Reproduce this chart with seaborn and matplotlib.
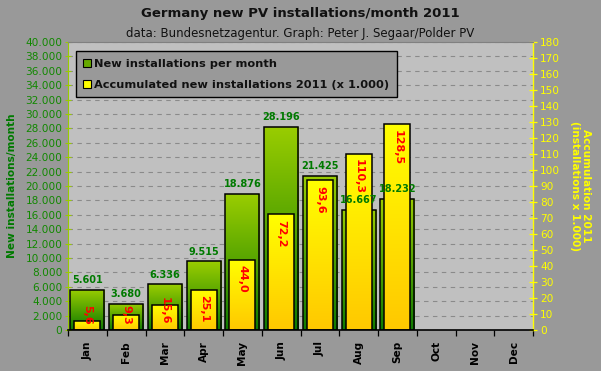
"""Germany new PV installations per month, 2011 (Polder PV style chart)."""

import matplotlib
matplotlib.use("Agg")
import matplotlib.pyplot as plt
import numpy as np
import pandas as pd
import seaborn as sns
from matplotlib.colors import LinearSegmentedColormap
from matplotlib.ticker import FixedLocator, FuncFormatter, MultipleLocator

months = ["Jan", "Feb", "Mar", "Apr", "May", "Jun", "Jul", "Aug", "Sep", "Oct", "Nov", "Dec"]
new_installs = [5601, 3680, 6336, 9515, 18876, 28196, 21425, 16667, 18232, np.nan, np.nan, np.nan]
accumulated = [5.6, 9.3, 15.6, 25.1, 44.0, 72.2, 93.6, 110.3, 128.5, np.nan, np.nan, np.nan]

left_max, right_max = 40000, 180

FIG_BG = "#999999"
PLOT_BG = "#c0c0c0"
TICK_GREEN = "#118800"
LABEL_GREEN = "#007a00"
YELLOW = "#ffff00"

df = pd.DataFrame({"month": months, "new": new_installs, "accum": accumulated})

sns.set_style("white")
plt.rcParams["font.family"] = ["DejaVu Sans"]

fig = plt.figure(figsize=(6.01, 3.71), dpi=100, facecolor=FIG_BG)
ax = fig.add_axes([68 / 601, 41 / 371, 465 / 601, 288 / 371])
ax.set_facecolor(PLOT_BG)
ax2 = ax.twinx()


def gradient_bars(axis, bottom_col, top_col):
    """Replace flat bar fills with a vertical gradient clipped to each bar."""
    cmap = LinearSegmentedColormap.from_list("grad", [bottom_col, top_col])
    grad = np.linspace(0, 1, 256).reshape(-1, 1)
    for p in axis.patches:
        h = p.get_height()
        if not np.isfinite(h) or h == 0:
            continue
        x, y, w = p.get_x(), p.get_y(), p.get_width()
        im = axis.imshow(grad, extent=[x, x + w, y, y + h], origin="lower",
                         cmap=cmap, aspect="auto", zorder=1.5, interpolation="bilinear")
        im.set_clip_path(p)
        p.set_facecolor("none")
        p.set_edgecolor("black")
        p.set_linewidth(1.1)
        p.set_zorder(1.6)


sns.barplot(data=df, x="month", y="new", order=months, width=0.88, ax=ax,
            color="#66aa00", errorbar=None)
gradient_bars(ax, "#0f7a00", "#9acd00")

sns.barplot(data=df, x="month", y="accum", order=months, width=0.67, ax=ax2,
            color=YELLOW, errorbar=None)
gradient_bars(ax2, "#ffc800", "#ffff00")

ax.set_xlim(-0.5, len(months) - 0.5)
ax.set_ylim(0, left_max)
ax2.set_ylim(0, right_max)

# grid
ax.set_axisbelow(True)
ax.yaxis.set_major_locator(MultipleLocator(2000))
ax.grid(axis="y", color="#8a8a8a", linestyle=(0, (4, 4)), linewidth=0.8)
ax.grid(axis="x", visible=False)

# left axis
fmt = FuncFormatter(lambda v, _: f"{int(v):,}".replace(",", "."))
ax.yaxis.set_major_formatter(fmt)
ax.tick_params(axis="y", colors="#99cc00", labelcolor=TICK_GREEN, labelsize=7.6,
               length=4, width=0.8, direction="inout", pad=2)
ax.set_ylabel("New installations/month", color=LABEL_GREEN, fontsize=7.6,
              fontweight="bold", labelpad=6)

# right axis
ax2.yaxis.set_major_locator(MultipleLocator(10))
ax2.tick_params(axis="y", colors=YELLOW, labelcolor=YELLOW, labelsize=7.6,
                length=6, width=0.9, direction="inout", pad=2)
ax2.set_ylabel("Accumulation 2011\n(installations x 1.000)", color=YELLOW,
               fontsize=7.6, fontweight="bold", rotation=270, labelpad=22,
               linespacing=1.1)

# x axis: labels centred, tick marks on month boundaries
ax.set_xlabel("")
ax2.set_xlabel("")
ax.set_xticks(range(len(months)))
ax.set_xticklabels(months, rotation=90, fontweight="bold", fontsize=7.6, color="black")
ax.xaxis.set_minor_locator(FixedLocator(np.arange(-0.5, len(months), 1)))
ax.tick_params(axis="x", which="major", length=0, pad=8)
ax.tick_params(axis="x", which="minor", length=4, width=0.9, color="black",
               direction="out", bottom=True)

for s in ("left", "right", "top", "bottom"):
    ax.spines[s].set_visible(False)
ax2.spines["left"].set_color("#99cc00")
ax2.spines["right"].set_color(YELLOW)
ax2.spines["right"].set_linewidth(1.0)
ax2.spines["top"].set_color("#808080")
ax2.spines["bottom"].set_color("black")
ax2.spines["bottom"].set_linewidth(1.2)

# value labels: monthly totals above green bars (drawn on top axis layer)
for i, v in enumerate(new_installs):
    if not np.isfinite(v):
        continue
    ax2.annotate(f"{v:,}".replace(",", "."), (i, v / left_max * right_max),
                 xytext=(0, 3.5), textcoords="offset points", ha="center",
                 va="bottom", color=LABEL_GREEN, fontsize=7, fontweight="bold",
                 zorder=5)

# accumulated labels inside yellow bars
for i, v in enumerate(accumulated):
    if not np.isfinite(v):
        continue
    txt = f"{v:.1f}".replace(".", ",")
    bar_px = v / right_max * 288
    if bar_px < len(txt) * 6.3 + 8:
        ax2.annotate(txt, (i, 0), xytext=(0, 4), textcoords="offset points",
                     ha="center", va="bottom", rotation=270, color="red",
                     fontsize=8, fontweight="bold", zorder=5)
    else:
        ax2.annotate(txt, (i, v), xytext=(0, -4), textcoords="offset points",
                     ha="center", va="top", rotation=270, color="red",
                     fontsize=8, fontweight="bold", zorder=5)

# legend
handles = [
    plt.Line2D([], [], marker="s", linestyle="none", markersize=5.5,
               markerfacecolor="#66aa00", markeredgecolor="black", markeredgewidth=0.8),
    plt.Line2D([], [], marker="s", linestyle="none", markersize=5.5,
               markerfacecolor=YELLOW, markeredgecolor="black", markeredgewidth=0.8),
]
leg = ax2.legend(handles, ["New installations per month",
                           "Accumulated new installations 2011 (x 1.000)"],
                 loc="upper left", bbox_to_anchor=(0.017, 0.968), borderaxespad=0,
                 frameon=True, fancybox=False, facecolor=FIG_BG, edgecolor="black",
                 framealpha=1, handlelength=0.6, handletextpad=0.35,
                 labelspacing=1.0, borderpad=0.65,
                 prop={"weight": "bold", "size": 8.2})
leg.get_frame().set_linewidth(1.0)
for t in leg.get_texts():
    t.set_color("#111111")

fig.text(0.5, 1 - 14 / 371, "Germany new PV installations/month 2011", ha="center",
         va="center", fontsize=9.5, fontweight="bold", color="#111111")
fig.text(0.5, 1 - 33 / 371, "data: Bundesnetzagentur. Graph: Peter J. Segaar/Polder PV",
         ha="center", va="center", fontsize=8.5, color="#111111")

fig.savefig("out.png", dpi=100, facecolor=FIG_BG)
